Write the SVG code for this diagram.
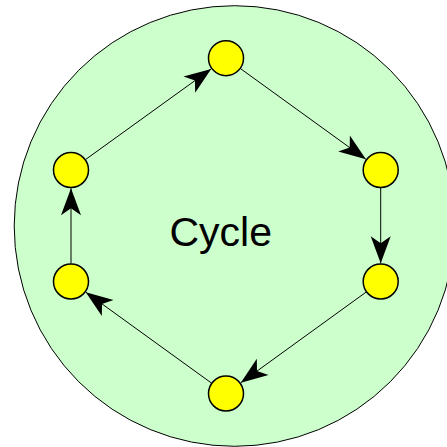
<svg xmlns="http://www.w3.org/2000/svg" width="447" height="447" viewBox="0 0 447 447">
<style>
.node{fill:#ffff00;stroke:#000;stroke-width:1.5}
.edge{stroke:#000;stroke-width:1;fill:none;marker-end:url(#arr)}
.label{font-family:"Liberation Sans",Arial,sans-serif;font-size:41px;fill:#000;text-anchor:middle}
</style>
<defs>
<marker id="arr" viewBox="-28 -11 29 22" markerWidth="29" markerHeight="22" refX="0" refY="0" markerUnits="userSpaceOnUse" orient="auto">
<path d="M0,0 L-27,-10 L-20,0 L-27,10 Z" fill="#000"/>
</marker>
</defs>
<rect width="447" height="447" fill="#fff"/>
<g id="cycle">
<circle cx="234.5" cy="226" r="220.3" fill="#ccffcc" stroke="#000" stroke-width="1"/>
<text class="label" x="220.7" y="245.5">Cycle</text>
</g>
<g id="connectors">
<line class="edge" x1="240.6" y1="68.7" x2="365.9" y2="159.3"/>
<line class="edge" x1="380.7" y1="188" x2="380.7" y2="263.2"/>
<line class="edge" x1="366.1" y1="292.1" x2="240.8" y2="382.8"/>
<line class="edge" x1="211.4" y1="383" x2="85.8" y2="292.2"/>
<line class="edge" x1="71" y1="263.5" x2="71" y2="188.3"/>
<line class="edge" x1="85.6" y1="159.5" x2="211.2" y2="68.9"/>
</g>
<g id="n1"><circle class="node" cx="226" cy="58.2" r="17.5"/></g>
<g id="n2"><circle class="node" cx="380.7" cy="170" r="17.5"/></g>
<g id="n3"><circle class="node" cx="380.7" cy="281.5" r="17.5"/></g>
<g id="n4"><circle class="node" cx="226" cy="393.5" r="17.5"/></g>
<g id="n5"><circle class="node" cx="71" cy="281.5" r="17.5"/></g>
<g id="n6"><circle class="node" cx="71" cy="170" r="17.5"/></g>
</svg>
